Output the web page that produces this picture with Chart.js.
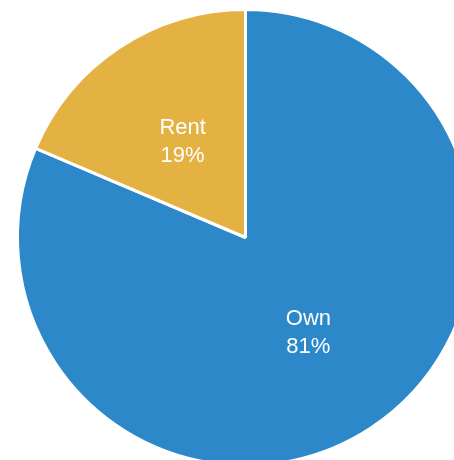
<!DOCTYPE html>
<html>
<head>
<meta charset="utf-8">
<script src="https://cdn.jsdelivr.net/npm/chart.js@4"></script>
<style>
  html, body { margin: 0; padding: 0; background: #fff; overflow: hidden; }
  #wrap { width: 490px; height: 476px; }
</style>
</head>
<body>
<div id="wrap"><canvas id="chart" width="490" height="476"></canvas></div>
<script>
const labels = ["Own", "Rent"];
const shares = [81.4, 18.6];
const colors = ["#2c88c8", "#e3b243"];

// draw "label\nxx%" in the middle of each slice
const sliceLabels = {
  id: "sliceLabels",
  afterDatasetsDraw(chart) {
    const ctx = chart.ctx;
    const meta = chart.getDatasetMeta(0);
    ctx.save();
    ctx.fillStyle = "#fff";
    ctx.font = "22px 'Liberation Sans', Arial, sans-serif";
    ctx.textAlign = "center";
    ctx.textBaseline = "middle";
    meta.data.forEach((arc, i) => {
      const p = arc.tooltipPosition();
      ctx.fillText(labels[i], p.x, p.y - 14);
      ctx.fillText(Math.round(shares[i]) + "%", p.x, p.y + 14);
    });
    ctx.restore();
  },
};

new Chart(document.querySelector("#chart").getContext("2d"), {
  type: "pie",
  data: {
    labels: labels,
    datasets: [
      {
        data: shares,
        backgroundColor: colors,
        borderColor: "#fff",
        borderWidth: 3,
      },
    ],
  },
  options: {
    responsive: false,
    animation: false,
    layout: { padding: { left: 16, top: 8, right: 15, bottom: 9 } },
    plugins: {
      legend: { display: false },
      tooltip: { enabled: false },
    },
  },
  plugins: [sliceLabels],
});
</script>
</body>
</html>
